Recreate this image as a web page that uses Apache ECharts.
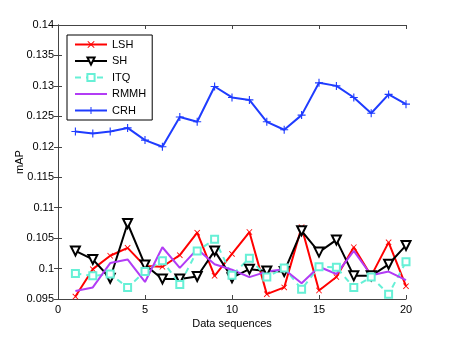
<!DOCTYPE html>
<html>
<head>
<meta charset="utf-8">
<script src="https://cdn.jsdelivr.net/npm/echarts@6/dist/echarts.min.js"></script>
<style>
  html, body { margin: 0; padding: 0; background: #fff; }
  #chart { width: 449px; height: 337px; }
</style>
</head>
<body>
<div id="chart"></div>
<script>
  // data sequences 1..20
  const seq = [1, 2, 3, 4, 5, 6, 7, 8, 9, 10, 11, 12, 13, 14, 15, 16, 17, 18, 19, 20];
  const lsh  = [0.0954, 0.0999, 0.1021, 0.1034, 0.1004, 0.1003, 0.1022, 0.1059, 0.0988, 0.1024,
                0.1060, 0.0958, 0.0969, 0.1068, 0.0964, 0.0986, 0.1035, 0.0988, 0.1043, 0.0971];
  const sh   = [0.1029, 0.1015, 0.0984, 0.1074, 0.1006, 0.0983, 0.0983, 0.0987, 0.1029, 0.0985,
                0.0999, 0.0996, 0.0995, 0.1062, 0.1027, 0.1047, 0.0988, 0.0988, 0.1007, 0.1038];
  const itq  = [0.0992, 0.0988, 0.0991, 0.0969, 0.0995, 0.1013, 0.0974, 0.1029, 0.1048, 0.0989,
                0.1017, 0.0986, 0.1001, 0.0966, 0.1003, 0.1002, 0.0969, 0.0986, 0.0958, 0.1011];
  const rmmh = [0.0963, 0.0969, 0.1009, 0.1015, 0.0978, 0.1035, 0.1001, 0.1032, 0.1007, 0.0998,
                0.0986, 0.0995, 0.0999, 0.0976, 0.1003, 0.0991, 0.1029, 0.0989, 0.0995, 0.0981];
  const crh  = [0.1225, 0.1222, 0.1225, 0.1231, 0.1211, 0.1200, 0.1249, 0.1241, 0.1299, 0.1281,
                0.1277, 0.1241, 0.1228, 0.1252, 0.1305, 0.1300, 0.1281, 0.1255, 0.1286, 0.1270];

  const pairs = arr => seq.map((x, i) => [x, arr[i]]);

  const xMark = 'path://M0,1L1,0L5,4L9,0L10,1L6,5L10,9L9,10L5,6L1,10L0,9L4,5Z';
  const plusMark = 'path://M4.3,0H5.7V4.3H10V5.7H5.7V10H4.3V5.7H0V4.3H4.3Z';

  const axisCol = '#444';
  const font = 'Liberation Sans, Arial, sans-serif';

  let myChart = echarts.init(document.getElementById('chart'));
  let option = {
    animation: false,
    textStyle: { fontFamily: font },
    grid: { left: 58, right: 43, top: 25, bottom: 38, outerBoundsMode: 'none' },
    legend: {
      orient: 'vertical',
      left: 67, top: 35,
      padding: [4, 6, 4, 7],
      itemWidth: 32, itemHeight: 9, itemGap: 5.5,
      borderColor: '#000', borderWidth: 1,
      backgroundColor: '#fff',
      textStyle: { fontSize: 11, color: '#000', fontFamily: font },
      data: ['LSH', 'SH', 'ITQ', { name: 'RMMH', itemStyle: { opacity: 0 } }, 'CRH']
    },
    xAxis: [{
      type: 'value', min: 0, max: 20, interval: 5,
      name: 'Data sequences', nameLocation: 'middle', nameGap: 19,
      nameMoveOverlap: false,
      nameTextStyle: { fontSize: 11, color: '#000' },
      axisLine: { lineStyle: { color: axisCol } },
      axisTick: { inside: true, length: 4, lineStyle: { color: axisCol } },
      axisLabel: { fontSize: 11, color: '#000', margin: 5 },
      splitLine: { show: false }
    }, {
      type: 'value', min: 0, max: 20, interval: 5, position: 'top',
      axisLine: { lineStyle: { color: axisCol } },
      axisTick: { inside: true, length: 4, lineStyle: { color: axisCol } },
      axisLabel: { show: false },
      splitLine: { show: false }
    }],
    yAxis: [{
      type: 'value', min: 0.095, max: 0.14, interval: 0.005,
      name: 'mAP', nameLocation: 'middle', nameGap: 33,
      nameMoveOverlap: false,
      nameTextStyle: { fontSize: 11, color: '#000' },
      axisLine: { show: true, lineStyle: { color: axisCol } },
      axisTick: { show: true, inside: true, length: 4, lineStyle: { color: axisCol } },
      axisLabel: { fontSize: 11, color: '#000', margin: 4, formatter: v => String(+v.toFixed(3)) },
      splitLine: { show: false }
    }, {
      type: 'value', min: 0.095, max: 0.14, interval: 0.005, position: 'right',
      axisLine: { show: true, lineStyle: { color: axisCol } },
      axisTick: { show: true, inside: true, length: 4, lineStyle: { color: axisCol } },
      axisLabel: { show: false },
      splitLine: { show: false }
    }],
    series: [{
      name: 'LSH', type: 'line', data: pairs(lsh),
      symbol: xMark, symbolSize: 6,
      lineStyle: { color: '#ff0000', width: 2 },
      itemStyle: { color: '#ff0000' }
    }, {
      name: 'SH', type: 'line', data: pairs(sh),
      symbol: 'emptyTriangle', symbolRotate: 180, symbolSize: 9,
      lineStyle: { color: '#000', width: 2 },
      itemStyle: { color: '#000', borderWidth: 1.5 }
    }, {
      name: 'ITQ', type: 'line', data: pairs(itq),
      symbol: 'emptyRect', symbolSize: 7,
      lineStyle: { color: '#66f0d6', width: 2, type: [6, 5] },
      itemStyle: { color: '#66f0d6', borderWidth: 1.5 }
    }, {
      name: 'RMMH', type: 'line', data: pairs(rmmh),
      symbol: 'none',
      lineStyle: { color: '#b23cf5', width: 2 },
      itemStyle: { color: '#b23cf5' }
    }, {
      name: 'CRH', type: 'line', data: pairs(crh),
      symbol: plusMark, symbolSize: 8,
      lineStyle: { color: '#1f3cff', width: 2 },
      itemStyle: { color: '#1f3cff' }
    }]
  };
  myChart.setOption(option);
</script>
</body>
</html>
